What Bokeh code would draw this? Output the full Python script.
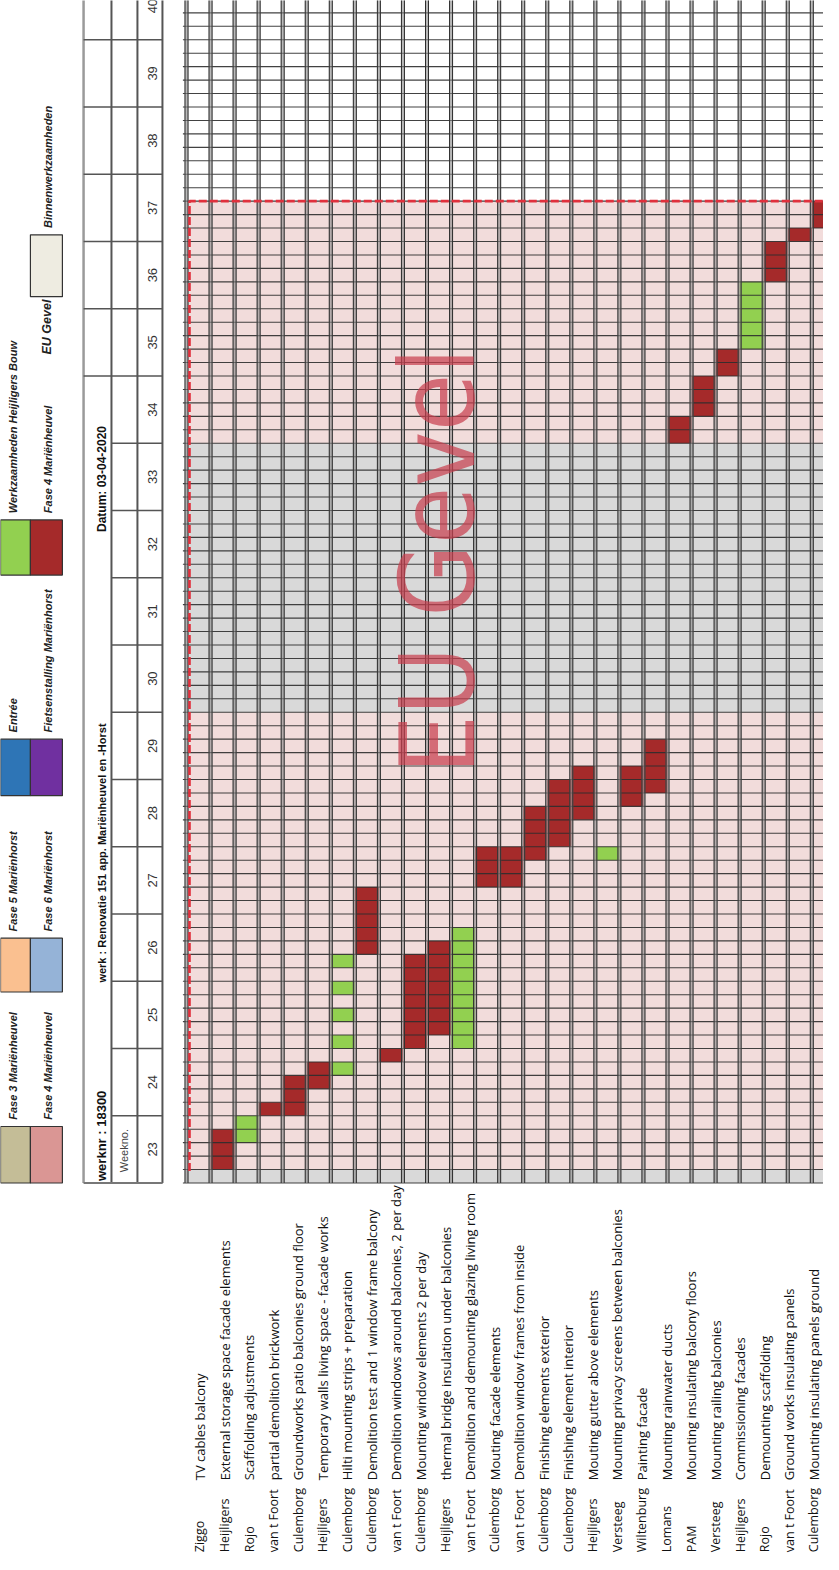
from math import pi
from bokeh.plotting import figure
from bokeh.models import Range1d
from bokeh.embed import file_html
from bokeh.resources import INLINE
from bokeh.core.properties import value

# ---------------- data ----------------
weeks = list(range(23, 41))
days_per_week = 5

companies = ["Ziggo", "Heijligers", "Rojo", "van t Foort", "Culemborg", "Heijligers",
             "Culemborg", "Culemborg", "van t Foort", "Culemborg", "Heijligers", "van t Foort",
             "Culemborg", "van t Foort", "Culemborg", "Culemborg", "Heijligers", "Versteeg",
             "Wiltenburg", "Lomans", "PAM", "Versteeg", "Heijligers", "Rojo", "van t Foort",
             "Culemborg"]
tasks = ["TV cables balcony", "External storage space facade elements", "Scaffolding adjustments",
         "partial demolition brickwork", "Groundworks patio balconies ground floor",
         "Temporary walls living space - facade works", "Hilti mounting strips + preparation",
         "Demolition test and 1 window frame balcony", "Demolition windows around balconies, 2 per day",
         "Mounting window elements 2 per day", "thermal bridge insulation under balconies",
         "Demolition and demounting glazing living room", "Mouting facade elements",
         "Demolition window frames from inside", "Finishing elements exterior",
         "Finishing element interior", "Mouting gutter above elements",
         "Mounting privacy screens between balconies", "Painting facade", "Mounting rainwater ducts",
         "Mounting insulating balcony floors", "Mounting railing balconies", "Commissioning facades",
         "Demounting scaffolding", "Ground works insulating panels", "Mounting insulating panels ground"]

# schedule: task index, start day, end day (days counted from monday of week 23)
bar_task = [0, 1, 2, 3, 4, 5, 5, 5, 5, 5, 6, 7, 8, 9, 10, 11, 12, 13, 14, 15, 16, 17, 18,
            19, 20, 21, 22, 23, 24, 25]
bar_start = [1, 3, 5, 5, 7, 8, 10, 12, 14, 16, 17, 9, 10, 11, 10, 22, 22, 24, 25, 27, 24, 28, 29,
             55, 57, 60, 62, 67, 70, 71]
bar_end = [4, 5, 6, 8, 9, 9, 11, 13, 15, 17, 22, 10, 17, 18, 19, 25, 25, 28, 30, 31, 25, 31, 33,
           57, 60, 62, 67, 70, 71, 73]
bar_phase = ["F4", "HB", "F4", "F4", "F4", "HB", "HB", "HB", "HB", "HB", "F4", "F4", "F4", "F4",
             "HB", "F4", "F4", "F4", "F4", "F4", "HB", "F4", "F4", "F4", "F4", "F4", "HB", "F4",
             "F4", "F4"]

frame_days = (1, 73)      # period inside the dashed frame
closed_days = (35, 55)    # grey period

legend_row1 = ["Fase 3 Mariënheuvel", "Fase 5 Mariënhorst", "Entrée", "Werkzaamheden Heijligers Bouw"]
legend_row2 = ["Fase 4 Mariënheuvel", "Fase 6 Mariënhorst", "Fietsenstalling Mariënhorst",
               "Fase 4 Mariënheuvel", "Binnenwerkzaamheden"]
legend_extra = "EU Gevel"
title_werknr = "werknr : 18300"
title_werk = "werk : Renovatie 151 app. Mariënheuvel en -Horst"
title_datum = "Datum: 03-04-2020"
weekno_label = "Weekno."
watermark = "EU Gevel"

# ---------------- layout / style ----------------
W, H = 823, 1554
PX_DAY, PX_COL = 13.45, 24.05
X0, Y0 = -7.734, -27.62
RED, GREEN = "#a52a2a", "#92d050"
PINK, GREY = "#f2dcdb", "#d9d9d9"
phase_color = {"F4": RED, "HB": GREEN}
row1_colors = ["#c4bd97", "#fac090", "#2e75b6", GREEN]
row2_colors = ["#da9694", "#95b3d7", "#7030a0", RED, "#eeece1"]
row1_span = [(0.0, 4.2), (14.2, 18.2), (28.8, 33.0), (45.2, 49.3)]
row2_span = [(0.0, 4.2), (14.2, 18.2), (28.8, 33.0), (45.2, 49.3), (65.9, 70.5)]
ROW1_U = (-7.734, -6.49)
ROW2_U = (-6.49, -5.16)
GRID_RIGHT = 27.6
NDAYS = len(weeks) * days_per_week
HDR_U = [-4.28, -3.12, -2.04, -1.0]

p = figure(width=W, height=H, x_range=Range1d(X0, X0 + W / PX_COL),
           y_range=Range1d(Y0, Y0 + H / PX_DAY), output_backend="svg",
           toolbar_location=None, x_axis_location=None, y_axis_location=None,
           min_border=0, background_fill_color="white")
p.xgrid.visible = False
p.ygrid.visible = False
p.outline_line_color = None

# background fills
p.quad(left=[0], right=[GRID_RIGHT], bottom=[0], top=[frame_days[0]], color=GREY, line_color=None)
p.quad(left=[0], right=[GRID_RIGHT], bottom=[frame_days[0]], top=[frame_days[1]], color=PINK,
       line_color=None)
p.quad(left=[0], right=[GRID_RIGHT], bottom=[closed_days[0]], top=[closed_days[1]], color=GREY,
       line_color=None)

# bars (column = task index + 1)
p.quad(left=[k + 1 for k in bar_task], right=[k + 2 for k in bar_task], bottom=bar_start,
       top=bar_end, color=[phase_color[ph] for ph in bar_phase], line_color=None)

# grid: day lines
days = list(range(0, NDAYS + 1))
p.segment(x0=[-0.15] * len(days), y0=days, x1=[GRID_RIGHT] * len(days), y1=days,
          line_color="#2e2e2e", line_width=1.1, line_alpha=0.9)
# grid: column lines
cols = list(range(0, 28))
off = 1.5 / PX_COL
p.segment(x0=cols, y0=[0] * len(cols), x1=cols, y1=[NDAYS] * len(cols), line_color="#8a8a8a",
          line_width=4, line_alpha=0.6)
for s in (-off, off):
    p.segment(x0=[c + s for c in cols], y0=[0] * len(cols), x1=[c + s for c in cols],
              y1=[NDAYS] * len(cols), line_color="#2e2e2e", line_width=1)

# dashed frame
fu = 3 / PX_COL
p.line(x=[fu, fu, GRID_RIGHT], y=[frame_days[0] - 0.1, frame_days[1], frame_days[1]],
       line_color="#e0303c", line_width=2.6, line_dash="8 3")

# watermark
p.text(x=[10.45], y=[30.4], text=[watermark], angle=pi / 2, text_align="left",
       text_baseline="middle", text_font=value("DejaVu Sans Condensed"), text_font_size="104px",
       text_color="#c8404f", text_alpha=0.72)

# header lines
wk_bounds = [i * days_per_week for i in range(len(weeks) + 1)]
for u, col, lw in zip(HDR_U, ["#9a9a9a", "#555555", "#555555", "#555555"], [2.5, 2, 2, 2]):
    p.segment(x0=[u], y0=[0], x1=[u], y1=[NDAYS], line_color=col, line_width=lw)
short = [b for b in wk_bounds if b < 60]
long_ = [b for b in wk_bounds if b >= 60]
p.segment(x0=[HDR_U[1]] * len(short), y0=short, x1=[HDR_U[3]] * len(short), y1=short,
          line_color="#555555", line_width=1.6)
p.segment(x0=[HDR_U[0]] * len(long_), y0=long_, x1=[HDR_U[3]] * len(long_), y1=long_,
          line_color="#555555", line_width=1.6)
p.segment(x0=[HDR_U[0]], y0=[0], x1=[HDR_U[3]], y1=[0], line_color="#777777", line_width=2)

# header texts
hdr_font = value("Liberation Sans")
p.text(x=[-3.53], y=[0.15], text=[title_werknr], angle=pi / 2, text_align="left",
       text_baseline="middle", text_font=hdr_font, text_font_style="bold", text_font_size="13px",
       text_color="#111111")
p.text(x=[-3.53], y=[14.9], text=[title_werk], angle=pi / 2, text_align="left",
       text_baseline="middle", text_font=hdr_font, text_font_style="bold", text_font_size="11px",
       text_color="#111111")
p.text(x=[-3.53], y=[48.4], text=[title_datum], angle=pi / 2, text_align="left",
       text_baseline="middle", text_font=hdr_font, text_font_style="bold", text_font_size="12px",
       text_color="#111111")
p.text(x=[-2.6], y=[0.8], text=[weekno_label], angle=pi / 2, text_align="left",
       text_baseline="middle", text_font=hdr_font, text_font_size="11px", text_color="#444444")
p.text(x=[-1.4] * len(weeks), y=[(w - weeks[0]) * days_per_week + 2.5 for w in weeks],
       text=[str(w) for w in weeks], angle=pi / 2, text_align="center", text_baseline="middle",
       text_font=hdr_font, text_font_size="13px", text_color="#333333")

# legend
leg_font = value("Liberation Sans")
p.quad(left=[ROW1_U[0]] * len(row1_span), right=[ROW1_U[1]] * len(row1_span),
       bottom=[s[0] for s in row1_span], top=[s[1] for s in row1_span], fill_color=row1_colors,
       line_color="#333333", line_width=1.2)
p.quad(left=[ROW2_U[0]] * len(row2_span), right=[ROW2_U[1]] * len(row2_span),
       bottom=[s[0] for s in row2_span], top=[s[1] for s in row2_span], fill_color=row2_colors,
       line_color="#333333", line_width=1.2)
p.text(x=[-7.2] * len(legend_row1), y=[s[1] + 0.5 for s in row1_span], text=legend_row1,
       angle=pi / 2, text_align="left", text_baseline="middle", text_font=leg_font,
       text_font_style="bold italic", text_font_size="11px", text_color="#222222")
p.text(x=[-5.75] * len(legend_row2), y=[s[1] + 0.5 for s in row2_span], text=legend_row2,
       angle=pi / 2, text_align="left", text_baseline="middle", text_font=leg_font,
       text_font_style="bold italic", text_font_size="11px", text_color="#222222")
p.text(x=[-5.8], y=[61.6], text=[legend_extra], angle=pi / 2, text_align="left",
       text_baseline="middle", text_font=leg_font, text_font_style="bold italic",
       text_font_size="12.5px", text_color="#222222")

# task labels
LBL_U0, LBL_STEP = 0.56, 1.021
lbl_u = [LBL_U0 + LBL_STEP * i for i in range(len(tasks))]
p.text(x=lbl_u, y=[-27.45] * len(companies), text=companies, angle=pi / 2, text_align="left",
       text_baseline="middle", text_font=value("Open Sans"), text_font_size="12.5px",
       text_color="#111111")
p.text(x=lbl_u, y=[-22.1] * len(tasks), text=tasks, angle=pi / 2, text_align="left",
       text_baseline="middle", text_font=value("Open Sans"), text_font_size="13px",
       text_color="#111111")

open("out.html", "w").write(file_html(p, INLINE))
